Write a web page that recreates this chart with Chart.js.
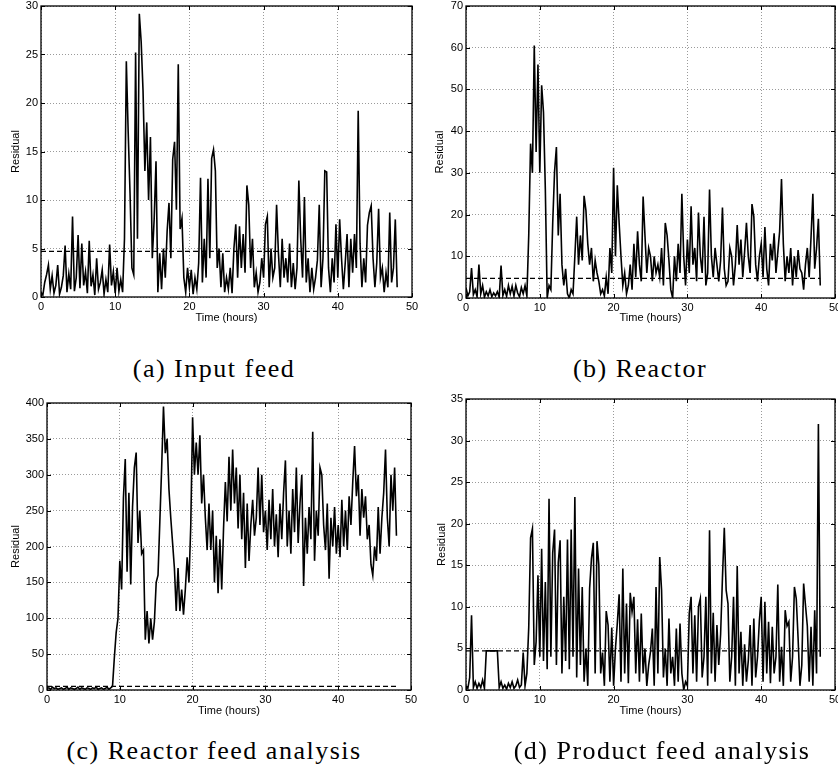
<!DOCTYPE html>
<html>
<head>
<meta charset="utf-8">
<script src="https://cdn.jsdelivr.net/npm/chart.js@4.4.1/dist/chart.umd.min.js"></script>
<style>
  body { margin: 0; background: #fff; }
  #page { position: relative; width: 838px; height: 769px; overflow: hidden; background: #fff; }
  canvas { position: absolute; }
  .caption {
    position: absolute;
    font-family: "Liberation Serif", "Times New Roman", serif;
    font-size: 26px;
    line-height: 26px;
    letter-spacing: 1.5px;
    color: #000;
    white-space: nowrap;
    transform: translateX(-50%);
  }
</style>
</head>
<body>
<div id="page">
  <canvas id="chartA" width="425" height="330" style="left:0px;top:0px"></canvas>
  <canvas id="chartB" width="418" height="330" style="left:420px;top:0px"></canvas>
  <canvas id="chartC" width="425" height="335" style="left:0px;top:392px"></canvas>
  <canvas id="chartD" width="418" height="339" style="left:420px;top:388px"></canvas>
  <div class="caption" style="left:214px;top:356px">(a) Input feed</div>
  <div class="caption" style="left:640px;top:356px">(b) Reactor</div>
  <div class="caption" style="left:214px;top:738px">(c) Reactor feed analysis</div>
  <div class="caption" style="left:662px;top:738px">(d) Product feed analysis</div>
</div>
<script>
// samples every quarter hour, 0 .. 48 h
const STEP = 0.25;

const xTicks = [0, 10, 20, 30, 40, 50];
const yTicksA = [0, 5, 10, 15, 20, 25, 30];
const yTicksB = [0, 10, 20, 30, 40, 50, 60, 70];
const yTicksC = [0, 50, 100, 150, 200, 250, 300, 350, 400];
const yTicksD = [0, 5, 10, 15, 20, 25, 30, 35];

// detection thresholds (dashed lines)
const thrA = 4.7;
const thrB = 4.7;
const thrC = 5;
const thrD = 4.7;

const inputFeed = [
  0.5, 0.2, 1.5, 2.3, 3.3, 0.8, 2.2, 0.4,
  1.2, 3.3, 0.3, 1.0, 2.2, 5.3, 0.5, 2.4,
  0.8, 8.3, 0.6, 2.0, 6.4, 0.9, 5.5, 1.2,
  2.6, 0.4, 5.8, 1.1, 2.3, 0.2, 4.0, 0.8,
  1.5, 2.8, 0.3, 1.8, 0.5, 5.4, 1.2, 2.6,
  0.4, 3.0, 0.6, 1.8, 0.5, 6.0, 24.3, 17.0,
  10.7, 3.0, 2.3, 25.2, 6.0, 29.2, 26.3, 21.3,
  13.0, 18.0, 10.0, 16.5, 4.0, 8.0, 14.0, 0.5,
  4.5, 0.8, 5.0, 2.0, 6.8, 9.7, 4.0, 14.2,
  16.0, 9.0, 24.0, 7.0, 8.1, 2.0, 0.5, 3.0,
  1.0, 2.8, 0.3, 2.0, 0.8, 3.5, 12.3, 1.5,
  6.0, 2.0, 12.2, 4.0, 14.3, 15.2, 13.0, 3.0,
  5.0, 1.0, 4.5, 0.5, 2.0, 0.8, 3.0, 0.4,
  5.0, 7.5, 2.0, 7.3, 3.0, 6.5, 2.5, 11.5,
  9.5, 3.0, 6.0, 1.0, 2.5, 0.5, 1.5, 4.0,
  2.0, 7.5, 8.3, 1.0, 5.0, 2.0, 3.0, 9.5,
  4.5, 1.0, 6.0, 2.0, 4.0, 1.5, 5.5, 1.0,
  3.5, 0.8, 3.0, 12.0, 6.0, 2.0, 10.3, 1.5,
  4.0, 0.5, 3.0, 0.8, 2.0, 3.8, 9.5, 1.0,
  4.0, 13.0, 12.9, 3.0, 0.5, 4.0, 1.5, 7.5,
  2.0, 8.0, 4.0, 0.8, 3.5, 6.5, 1.0, 6.0,
  2.5, 6.5, 3.0, 19.2, 5.5, 1.0, 4.0, 1.5,
  7.4, 8.7, 9.4, 4.0, 1.0, 3.5, 9.1, 2.0,
  3.0, 0.5, 2.5, 1.0, 8.7, 1.5, 3.0, 8.0,
  1.0
];

const reactor = [
  2.5, 0.5, 1.5, 7.2, 0.8, 2.0, 0.3, 8.0,
  1.0, 3.0, 0.2, 1.5, 0.5, 2.0, 0.3, 1.2,
  0.5, 1.5, 0.2, 7.8, 0.6, 2.0, 0.4, 3.0,
  1.0, 2.8, 0.5, 3.0, 1.2, 0.3, 2.5, 1.0,
  3.0, 0.5, 15.0, 37.0, 30.0, 60.5, 35.0, 56.0,
  30.0, 51.0, 44.5, 26.0, 0.0, 3.0, 2.0, 18.0,
  30.3, 36.2, 15.0, 25.0, 8.0, 3.0, 7.0, 1.0,
  0.0, 2.0, 1.0, 10.0, 19.5, 8.0, 15.0, 9.0,
  24.5, 21.0, 13.0, 8.0, 12.0, 4.0, 9.0, 6.0,
  4.0, 1.0, 2.0, 0.5, 5.0, 1.0, 12.0, 6.0,
  31.2, 10.0, 27.0, 18.0, 10.0, 3.0, 6.0, 1.0,
  3.0, 8.0, 2.0, 13.0, 5.0, 16.0, 8.0, 4.0,
  24.3, 15.0, 6.0, 12.0, 10.0, 4.0, 10.0, 6.0,
  8.0, 5.0, 12.0, 3.0, 18.0, 15.0, 9.0, 2.0,
  0.0, 10.0, 4.0, 13.0, 6.0, 25.0, 10.0, 3.0,
  14.0, 6.0, 22.0, 8.0, 12.0, 4.0, 20.5, 10.0,
  6.0, 19.5, 3.0, 6.0, 26.0, 10.0, 5.0, 12.0,
  8.0, 4.0, 9.0, 21.7, 7.0, 3.0, 4.0, 12.0,
  10.0, 3.0, 8.0, 17.5, 8.0, 14.0, 5.0, 11.0,
  18.0, 10.0, 6.0, 22.5, 19.5, 8.0, 4.0, 10.0,
  13.0, 5.0, 17.0, 7.0, 3.0, 13.0, 9.0, 15.5,
  6.0, 11.0, 16.0, 28.5, 13.0, 4.0, 10.0, 6.0,
  12.0, 3.0, 10.0, 5.0, 11.5, 7.0, 6.0, 2.0,
  8.0, 12.0, 5.0, 14.5, 25.0, 7.0, 12.0, 19.0,
  3.0
];

const reactorFeed = [
  2, 3, 1, 4, 2, 3, 1, 2,
  3, 1, 2, 4, 1, 3, 2, 1,
  2, 4, 1, 3, 2, 1, 3, 2,
  1, 3, 2, 4, 1, 2, 3, 1,
  2, 4, 1, 3, 5, 45, 80, 100,
  180, 140, 268, 322, 165, 275, 147, 255,
  310, 331, 205, 250, 190, 195, 70, 110,
  65, 100, 70, 95, 150, 160, 235, 310,
  395, 330, 350, 280, 240, 205, 170, 110,
  170, 110, 140, 105, 140, 185, 150, 230,
  380, 300, 345, 300, 355, 260, 300, 240,
  195, 260, 195, 250, 150, 215, 135, 210,
  140, 225, 290, 235, 325, 250, 335, 260,
  310, 225, 300, 210, 275, 170, 260, 180,
  230, 265, 215, 240, 310, 230, 300, 220,
  250, 195, 265, 210, 280, 200, 245, 185,
  260, 210, 275, 320, 200, 250, 190, 280,
  220, 310, 205, 260, 300, 145, 240, 190,
  255, 210, 360, 180, 250, 215, 310, 300,
  230, 195, 260, 155, 240, 200, 255, 190,
  230, 185, 265, 200, 250, 195, 270, 230,
  290, 340, 270, 300, 215, 280, 240, 270,
  210, 230, 175, 160, 200, 180, 255, 190,
  240, 275, 335, 240, 200, 300, 250, 310,
  215
];

const productFeed = [
  0.5, 0.2, 1.5, 9.0, 0.3, 1.0, 0.2, 0.8,
  0.3, 1.2, 0.2, 4.7, 4.7, 4.7, 4.7, 4.7,
  4.7, 4.7, 0.3, 1.0, 0.2, 0.6, 0.1, 0.8,
  0.3, 1.0, 0.2, 0.5, 1.2, 0.3, 0.6, 4.5,
  0.5, 2.0, 7.5, 18.3, 19.4, 3.0, 5.8, 13.8,
  4.0, 17.0, 3.5, 13.0, 2.5, 23.0, 4.0, 16.5,
  19.3, 3.0, 15.3, 18.0, 2.0, 11.2, 3.5, 18.1,
  2.5, 19.3, 4.0, 23.2, 1.5, 14.6, 3.0, 12.4,
  1.0, 5.0, 0.5, 12.2, 15.8, 17.7, 2.0, 17.9,
  15.0, 2.0, 4.5, 0.5, 9.5, 7.8, 1.0, 7.5,
  0.5, 5.0, 8.0, 11.5, 1.0, 14.6, 2.0, 10.4,
  0.8, 11.7, 9.4, 11.2, 2.0, 8.5, 1.0, 9.2,
  2.0, 5.0, 0.5, 3.0, 4.6, 7.4, 0.5, 12.4,
  2.0, 16.0, 12.0, 1.5, 5.0, 0.5, 8.6, 2.0,
  4.0, 0.5, 7.4, 1.0, 8.0, 2.0, 0.0, 1.0,
  0.5, 9.2, 11.2, 2.0, 9.0, 1.0, 10.0, 11.0,
  1.5, 4.0, 11.2, 0.5, 19.2, 2.0, 9.3, 1.0,
  7.8, 3.0, 6.7, 13.5, 19.5, 12.0, 10.4, 1.0,
  4.0, 11.2, 0.5, 14.9, 2.0, 7.0, 0.5, 5.5,
  1.0, 3.5, 7.8, 0.5, 8.6, 1.5, 4.0, 8.3,
  11.2, 1.0, 10.6, 2.0, 8.2, 0.8, 7.6, 2.0,
  4.0, 12.7, 1.0, 5.2, 0.5, 9.6, 7.7, 8.2,
  1.0, 4.0, 12.4, 11.0, 6.2, 0.5, 3.0, 12.8,
  10.2, 7.7, 1.0, 7.6, 0.5, 9.6, 2.0, 32.0,
  4.0
];

Chart.defaults.font.family = '"Liberation Sans", Arial, sans-serif';
Chart.defaults.font.size = 11;
Chart.defaults.color = "#000";

// MATLAB-like box with inward tick marks on all four sides
const matlabBox = {
  id: "matlabBox",
  afterDraw(chart) {
    const { ctx, chartArea: a, scales: { x, y } } = chart;
    ctx.save();
    ctx.strokeStyle = "#000";
    ctx.lineWidth = 1;
    ctx.beginPath();
    x.ticks.forEach(t => {
      const px = Math.round(x.getPixelForValue(t.value)) + 0.5;
      ctx.moveTo(px, a.bottom); ctx.lineTo(px, a.bottom - 4);
      ctx.moveTo(px, a.top); ctx.lineTo(px, a.top + 4);
    });
    y.ticks.forEach(t => {
      const py = Math.round(y.getPixelForValue(t.value)) + 0.5;
      ctx.moveTo(a.left, py); ctx.lineTo(a.left + 4, py);
      ctx.moveTo(a.right, py); ctx.lineTo(a.right - 4, py);
    });
    ctx.stroke();
    ctx.lineWidth = 1.3;
    ctx.strokeRect(a.left, a.top, a.right - a.left, a.bottom - a.top);
    ctx.restore();
  }
};

function makePanel(id, values, thr, yTicks, box) {
  const points = values.map((v, i) => ({ x: i * STEP, y: v }));
  const last = (values.length - 1) * STEP;
  const grid = { color: "#9a9a9a", lineWidth: 1, drawTicks: false };
  const border = { display: false, dash: [1, 2] };

  return new Chart(document.getElementById(id), {
    type: "line",
    data: {
      datasets: [
        {
          data: points,
          borderColor: "#000",
          borderWidth: 1.6,
          pointRadius: 0,
          tension: 0,
          order: 2
        },
        {
          data: [{ x: 0, y: thr }, { x: last, y: thr }],
          borderColor: "#000",
          borderWidth: 1.4,
          borderDash: [5, 3],
          pointRadius: 0,
          order: 1
        }
      ]
    },
    options: {
      responsive: false,
      animation: false,
      events: [],
      layout: { padding: { top: box.top, right: box.right, left: 0, bottom: 0 } },
      plugins: { legend: { display: false }, tooltip: { enabled: false } },
      scales: {
        x: {
          type: "linear",
          min: 0,
          max: 50,
          afterBuildTicks: s => { s.ticks = xTicks.map(v => ({ value: v })); },
          afterFit: s => { s.height = box.xh; s.paddingLeft = 0; s.paddingRight = 0; },
          grid,
          border,
          ticks: { padding: 3, maxRotation: 0, autoSkip: false },
          title: { display: true, text: "Time (hours)", padding: { top: 0, bottom: box.xt } }
        },
        y: {
          type: "linear",
          min: 0,
          max: yTicks[yTicks.length - 1],
          afterBuildTicks: s => { s.ticks = yTicks.map(v => ({ value: v })); },
          afterFit: s => { s.width = box.yw; s.paddingTop = 0; s.paddingBottom = 0; },
          grid,
          border,
          ticks: { padding: 3 },
          title: { display: true, text: "Residual", padding: { top: box.yt, bottom: 0 } }
        }
      }
    },
    plugins: [matlabBox]
  });
}

makePanel("chartA", inputFeed, thrA, yTicksA, { top: 6, right: 13, yw: 41, xh: 33, xt: 5, yt: 9 });
makePanel("chartB", reactor, thrB, yTicksB, { top: 6, right: 3, yw: 46, xh: 32, xt: 5, yt: 13 });
makePanel("chartC", reactorFeed, thrC, yTicksC, { top: 11, right: 14, yw: 47, xh: 37, xt: 9, yt: 9 });
makePanel("chartD", productFeed, thrD, yTicksD, { top: 11, right: 3, yw: 46, xh: 37, xt: 9, yt: 15 });
</script>
</body>
</html>
